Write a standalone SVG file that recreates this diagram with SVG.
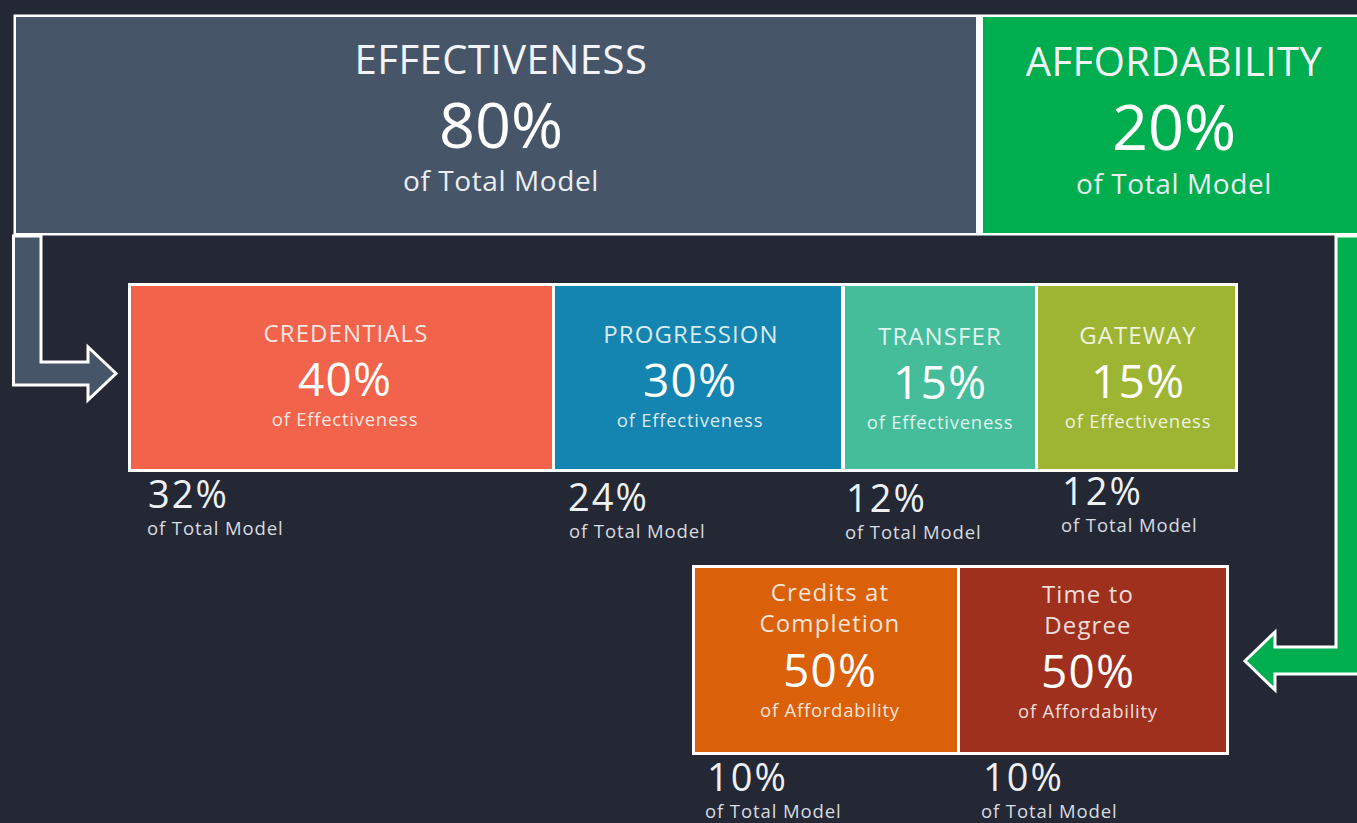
<svg xmlns="http://www.w3.org/2000/svg" width="1357" height="823" viewBox="0 0 1357 823">
<style>
text{font-family:"Open Sans","Noto Sans","Liberation Sans",sans-serif;fill:#ffffff;text-anchor:middle}
.hd{font-size:40px;letter-spacing:0.5px;fill:#f2f4f7}
.big{font-size:63px}
.sub{font-size:28px;letter-spacing:0.6px;fill:#eceef2}
.t{font-size:24px;letter-spacing:1.1px;fill:#ffffff;fill-opacity:0.85}
.p{font-size:46px;letter-spacing:1.2px}
.s{font-size:18.5px;letter-spacing:0.75px;fill:#ffffff;fill-opacity:0.85}
.lp{font-size:38px;letter-spacing:2px;fill:#eef0f3;text-anchor:start}
.ls{font-size:18.5px;letter-spacing:0.9px;fill:#d8dbe0;text-anchor:start}
.arrow{stroke:#ffffff;stroke-width:3;stroke-linejoin:miter}
</style>
<rect width="1357" height="823" fill="#232834"/>

<g id="connectors">
<polygon class="arrow" fill="#475569" points="13.5,236 41,236 41,362 88,362 88,347 116,373.5 88,400 88,385 13.5,385"/>
<polygon class="arrow" fill="#00ae4f" points="1362,236 1336,236 1336,647 1275,647 1275,632 1245,661 1275,690 1275,674 1362,674"/>
</g>

<g id="top-frame">
<rect x="13.5" y="14.5" width="1360" height="221" fill="#ffffff"/>
</g>
<g id="effectiveness">
<rect x="16" y="17" width="960" height="216" fill="#475569"/>
<text class="hd" x="501" y="74">EFFECTIVENESS</text>
<text class="big" x="501" y="148">80%</text>
<text class="sub" x="501" y="191">of Total Model</text>
</g>
<g id="affordability">
<rect x="983" y="17" width="380" height="216" fill="#00ae4f"/>
<text class="hd" x="1174" y="76">AFFORDABILITY</text>
<text class="big" x="1174" y="150">20%</text>
<text class="sub" x="1174" y="194">of Total Model</text>
</g>

<rect x="128" y="283" width="1110" height="189" fill="#ffffff"/>
<g id="credentials">
<rect x="131" y="286" width="421" height="183" fill="#f1644b"/>
<text class="t" x="346" y="342">CREDENTIALS</text>
<text class="p" x="345" y="396">40%</text>
<text class="s" x="345" y="426">of Effectiveness</text>
<text class="lp" x="148" y="508">32%</text>
<text class="ls" x="147" y="535">of Total Model</text>
</g>
<g id="progression">
<rect x="555" y="286" width="286" height="183" fill="#1484b0"/>
<text class="t" x="691" y="343">PROGRESSION</text>
<text class="p" x="690" y="397">30%</text>
<text class="s" x="690" y="427">of Effectiveness</text>
<text class="lp" x="568" y="511">24%</text>
<text class="ls" x="569" y="538">of Total Model</text>
</g>
<g id="transfer">
<rect x="845" y="286" width="190" height="183" fill="#45bd9a"/>
<text class="t" x="940" y="345">TRANSFER</text>
<text class="p" x="940" y="399">15%</text>
<text class="s" x="940" y="429">of Effectiveness</text>
<text class="lp" x="846" y="512">12%</text>
<text class="ls" x="845" y="539">of Total Model</text>
</g>
<g id="gateway">
<rect x="1038" y="286" width="197" height="183" fill="#9eb534"/>
<text class="t" x="1138" y="344">GATEWAY</text>
<text class="p" x="1138" y="398">15%</text>
<text class="s" x="1138" y="428">of Effectiveness</text>
<text class="lp" x="1062" y="505">12%</text>
<text class="ls" x="1061" y="532">of Total Model</text>
</g>

<rect x="692" y="565" width="537" height="190" fill="#ffffff"/>
<g id="credits-at-completion">
<rect x="695" y="568" width="262" height="184" fill="#da600a"/>
<text class="t" x="830" y="601">Credits at</text>
<text class="t" x="830" y="632">Completion</text>
<text class="p" x="830" y="687">50%</text>
<text class="s" x="830" y="717">of Affordability</text>
<text class="lp" x="707" y="791">10%</text>
<text class="ls" x="705" y="818">of Total Model</text>
</g>
<g id="time-to-degree">
<rect x="960" y="568" width="266" height="184" fill="#9f301d"/>
<text class="t" x="1088" y="603">Time to</text>
<text class="t" x="1088" y="634">Degree</text>
<text class="p" x="1088" y="688">50%</text>
<text class="s" x="1088" y="718">of Affordability</text>
<text class="lp" x="983" y="791">10%</text>
<text class="ls" x="981" y="818">of Total Model</text>
</g>
</svg>
